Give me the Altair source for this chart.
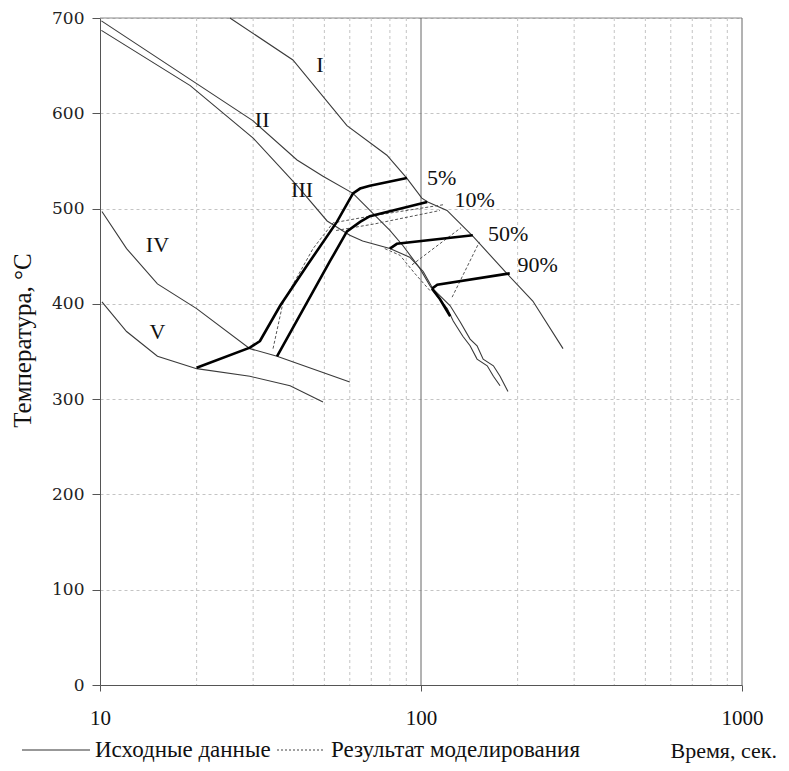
import altair as alt
import pandas as pd

# ---------------- data ----------------
# thin cooling curves (time, s ; temperature, °C)
I_t = [25.4, 39.9, 58.8, 78.3, 90.3, 100.6, 105, 120.5, 145, 185, 223, 277]
I_T = [700, 656, 587, 556, 532, 511, 507, 498, 471, 432, 403, 353]

II_t = [10.1, 30.0, 41.1, 49.5, 61.4, 80.0, 87.9, 99.3, 106.6, 112.4, 120.7, 126.0,
        135.0, 142.2, 149.5, 160.8, 168.1, 176.3]
II_T = [697, 592, 551, 534, 516, 477, 461, 437, 419, 408, 395, 382,
        366, 356, 342, 335, 324, 314]

III_t = [10.1, 19.1, 30.0, 41.1, 51.0, 60.0, 65.8, 80.0, 92.2, 101.6, 108.8, 123.3,
         132.5, 142.2, 149.5, 156.2, 168.1, 176.3, 186.6]
III_T = [687, 629, 574, 524, 487, 472, 466, 458, 449, 434, 416, 398,
         381, 363, 356, 342, 335, 324, 308]

IV_t = [10.14, 12.1, 15.1, 20.0, 29.3, 35.6, 60.0]
IV_T = [497, 458, 421, 395, 353, 345, 318]

V_t = [10.14, 12.1, 15.1, 20.0, 29.3, 39.1, 49.5]
V_T = [402, 371, 345, 332, 324, 314, 297]

# thick transformation lines (measured data)
P5_t = [20.0, 29.3, 31.5, 36.4, 44.1, 54.7, 61.4, 64.6, 69.3, 90.4]
P5_T = [333, 354, 361, 398, 440, 486, 516, 521, 524, 532]
P10_t = [35.6, 52.1, 58.8, 64.6, 69.3, 104.5]
P10_T = [345, 445, 476, 486, 492, 507]
P50_t = [80.0, 84.1, 145]
P50_T = [458, 463, 472]
P90_t = [108.2, 112.4, 189]
P90_T = [416, 420, 432]
PW_t = [108.2, 114.5, 123.3]
PW_T = [416, 405, 387]

# dashed lines (model results)
S5_t = [34.6, 37.2, 46.1, 53.2, 69.3, 117.2]
S5_T = [353, 402, 458, 485, 492, 504]
S10_t = [54.4, 71.9, 114.6]
S10_T = [477, 484, 498]
S50_t = [93.8, 133.3]
S50_T = [441, 480]
S90_t = [125, 152]
S90_T = [407, 465]
SE_t = [77.1, 86.0, 95.6, 106.6]
SE_T = [458, 451, 432, 414]

# curve labels
lab_text = ["I", "II", "III", "IV", "V", "5%", "10%", "50%", "90%"]
lab_t = [48.4, 32.0, 42.6, 15.1, 15.1, 116, 147, 187, 231]
lab_T = [651, 593, 519, 462, 370, 532, 509, 473, 441]

# grid / ticks
minor_x = [20, 30, 40, 50, 60, 70, 80, 90, 200, 300, 400, 500, 600, 700, 800, 900]
major_x = [100, 1000]
x_ticks = [10, 100, 1000]
y_ticks = [0, 100, 200, 300, 400, 500, 600, 700]
top_y = [700]


def frame(pairs):
    parts = []
    for name, ts, Ts in pairs:
        parts.append(pd.DataFrame({"curve": name, "t": ts, "T": Ts, "i": list(range(len(ts)))}))
    return pd.concat(parts, ignore_index=True)


thin_df = frame([("I", I_t, I_T), ("II", II_t, II_T), ("III", III_t, III_T),
                 ("IV", IV_t, IV_T), ("V", V_t, V_T)])
thick_df = frame([("5", P5_t, P5_T), ("10", P10_t, P10_T), ("50", P50_t, P50_T),
                  ("90", P90_t, P90_T), ("w", PW_t, PW_T)])
dash_df = frame([("5", S5_t, S5_T), ("10", S10_t, S10_T), ("50", S50_t, S50_T),
                 ("90", S90_t, S90_T), ("e", SE_t, SE_T)])
lab_df = pd.DataFrame({"t": lab_t, "T": lab_T, "label": lab_text})

SERIF = "Liberation Serif, Times New Roman, serif"
YLAB = "DejaVu Serif, serif"
xs = alt.Scale(type="log", domain=[10, 1000], nice=False)
ys = alt.Scale(domain=[0, 700], nice=False)

X_AX = alt.Axis(
    values=x_ticks, grid=False, format="d", labelFont=SERIF, labelFontSize=21, labelColor="#111",
    labelPadding=16, tickSize=6, tickColor="#555", domainColor="#555", labelFlush=False,
    title="Время, сек.", titleFont=SERIF, titleFontSize=22, titleFontWeight="normal",
    titleColor="#111", titleX=570, titleY=65, titleAlign="left", titleBaseline="middle",
    titleAngle=0)
Y_AX = alt.Axis(
    values=y_ticks, grid=True, gridDash=[3, 3], gridColor="#c4c4c4",
    labelFont=YLAB, labelFontSize=17, labelColor="#222", labelPadding=8,
    tickSize=8, tickColor="#555", domainColor="#555",
    title="Температура, °С", titleFont=SERIF, titleFontSize=25, titleFontWeight="normal",
    titleColor="#111", titleX=-78, titleY=322, titleAngle=-90,
    titleAlign="center", titleBaseline="middle")


def X():
    return alt.X("t:Q", scale=xs, axis=X_AX)


def Y():
    return alt.Y("T:Q", scale=ys, axis=Y_AX)


hgrid = alt.Chart(pd.DataFrame({"T": top_y})).mark_rule(color="#888", strokeWidth=1).encode(y=Y())
vminor = alt.Chart(pd.DataFrame({"t": minor_x})).mark_rule(
    color="#c4c4c4", strokeDash=[3, 3], strokeWidth=1).encode(x=X())
vmajor = alt.Chart(pd.DataFrame({"t": major_x})).mark_rule(
    color="#666", strokeWidth=1).encode(x=X())

thin = alt.Chart(thin_df).mark_line(color="#3a3a3a", strokeWidth=1.1).encode(
    x=X(), y=Y(), detail="curve:N", order="i:Q")
dashed = alt.Chart(dash_df).mark_line(color="#555", strokeWidth=1, strokeDash=[3, 2]).encode(
    x=X(), y=Y(), detail="curve:N", order="i:Q")
thick = alt.Chart(thick_df).mark_line(color="#000", strokeWidth=2.6).encode(
    x=X(), y=Y(), detail="curve:N", order="i:Q")
labels = alt.Chart(lab_df).mark_text(font=SERIF, fontSize=22, color="#111",
                                     align="center", baseline="middle").encode(
    x=X(), y=Y(), text="label:N")

# legend (bottom row)
one = pd.DataFrame({"k": [0]})
leg_solid = alt.Chart(one).mark_rule(color="#333", strokeWidth=1.2).encode(
    x=alt.value(-78), x2=alt.value(-10), y=alt.value(732))
leg_dot = alt.Chart(one).mark_rule(color="#444", strokeWidth=1.2, strokeDash=[2, 2]).encode(
    x=alt.value(177), x2=alt.value(224), y=alt.value(732))
leg_t1 = alt.Chart(one).mark_text(font=SERIF, fontSize=23, color="#111", align="left",
                                  baseline="middle").encode(
    x=alt.value(-5), y=alt.value(732), text=alt.value("Исходные данные"))
leg_t2 = alt.Chart(one).mark_text(font=SERIF, fontSize=23, color="#111", align="left",
                                  baseline="middle").encode(
    x=alt.value(231), y=alt.value(732), text=alt.value("Результат моделирования"))

chart = alt.layer(hgrid, vminor, vmajor, thin, dashed, thick, labels,
                  leg_solid, leg_dot, leg_t1, leg_t2).properties(
    width=642, height=667,
    autosize=alt.AutoSizeParams(type="none"),
    padding={"left": 100, "top": 18, "right": 47, "bottom": 86},
).configure_view(stroke=None)

chart.save("out.html", embed_options={"renderer": "svg", "actions": False})
